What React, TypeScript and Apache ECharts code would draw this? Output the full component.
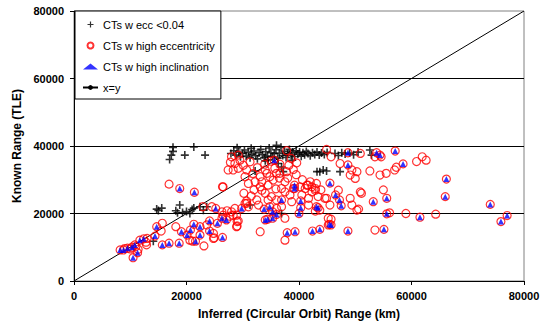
import React, { useEffect, useRef } from "react";
import * as echarts from "echarts";

// values in thousands of km: [inferred, known]
const lowEcc: number[][] = [
  [17.6, 39.6], [17.6, 38.4], [17.3, 37.3], [17.0, 36.0], [19.7, 37.3], [21.3, 39.7], [23.3, 37.3],
  [14.7, 21.3], [15.6, 21.6], [15.0, 20.9], [18.1, 20.8], [18.8, 22.5], [18.4, 20.2], [19.3, 20.3],
  [20.0, 20.6], [20.6, 20.0], [21.0, 21.2], [21.3, 21.6], [22.4, 22.0], [23.0, 21.0], [23.6, 22.0],
  [14.1, 11.8], [31.3, 22.5], [36.9, 20.0],
  [36.3, 34.8], [36.9, 33.8], [37.2, 32.4], [43.2, 32.4], [43.7, 32.4], [44.3, 32.9], [44.9, 32.6],
  [47.3, 32.4], [32.2, 32.6], [34.0, 35.6],
  [27.9, 37.8], [28.4, 38.6], [28.8, 37.3], [29.3, 38.2], [29.6, 36.8], [30.0, 37.8], [30.3, 38.8],
  [30.6, 37.0], [31.0, 38.2], [31.3, 36.5], [31.6, 37.6], [32.0, 38.5], [32.3, 37.1], [32.6, 36.2],
  [32.9, 38.0], [33.2, 39.0], [33.5, 37.4], [33.8, 36.6], [34.1, 38.3], [34.4, 37.0], [34.7, 39.4],
  [35.0, 38.0], [35.3, 36.8], [35.6, 37.7], [35.9, 38.9], [36.2, 36.4], [36.5, 37.9], [36.8, 39.6],
  [37.1, 37.2], [37.4, 38.4], [37.7, 36.6], [38.0, 37.8], [38.3, 39.0], [38.6, 37.2], [38.9, 38.2],
  [39.2, 36.9], [39.5, 38.6], [39.8, 37.6], [40.1, 38.2], [40.4, 37.0], [40.7, 38.0], [41.0, 37.4],
  [41.3, 38.4], [41.6, 37.8], [42.0, 37.1], [42.4, 38.0], [42.8, 37.5], [43.2, 38.2], [43.6, 37.3],
  [44.0, 37.9], [44.5, 37.5], [45.0, 38.1], [46.4, 37.8], [47.0, 37.2], [47.6, 38.0], [48.2, 37.6],
  [49.0, 37.9], [49.7, 37.4], [50.5, 38.2], [52.6, 38.8], [52.9, 37.3], [36.0, 40.2], [31.5, 39.3],
  [34.5, 35.9], [38.8, 35.8], [29.0, 39.5],
];

const highEcc: number[][] = [
  [16.9, 28.7], [26.4, 27.9], [15.7, 17.1], [15.5, 14.8], [12.9, 10.7], [11.4, 9.4], [18.1, 16.1],
  [23.1, 10.4], [21.1, 11.8], [24.9, 12.8], [24.8, 14.1], [23.6, 16.6], [22.9, 22.0], [24.5, 22.0],
  [26.3, 20.5], [26.5, 19.5], [27.7, 19.2], [28.3, 19.5], [28.9, 19.5], [29.0, 17.6], [29.0, 16.3],
  [31.0, 22.0], [30.7, 23.0], [33.1, 14.6], [27.2, 20.8], [28.0, 20.5], [28.6, 21.5], [30.4, 23.0],
  [30.7, 23.7], [32.5, 24.0], [32.8, 22.5], [33.4, 26.9], [34.0, 26.0], [34.5, 24.0], [35.1, 25.0],
  [36.0, 24.0], [24.8, 12.6], [20.6, 12.1], [29.2, 17.8], [28.9, 16.1],
  [9.0, 9.6], [10.0, 9.5], [11.0, 10.2], [12.8, 11.5], [13.0, 12.6],
  [28.0, 36.8], [29.2, 37.3], [28.6, 34.8], [29.5, 35.8], [28.3, 32.9], [29.2, 33.4], [30.1, 34.3],
  [30.7, 32.9], [31.3, 35.3], [30.4, 30.9], [31.0, 28.9], [32.2, 29.4], [33.1, 30.9], [33.4, 29.4],
  [34.0, 32.9], [34.3, 31.9], [34.8, 30.9], [35.7, 33.4], [36.0, 31.9], [35.4, 29.9], [34.5, 28.4],
  [33.1, 27.9], [26.5, 27.9], [27.4, 32.9], [27.8, 35.2], [31.8, 31.8], [32.6, 33.6], [30.2, 26.0],
  [31.5, 25.2], [33.9, 34.6], [35.0, 35.5], [36.6, 34.6], [36.5, 30.5], [35.9, 27.3], [32.0, 27.0],
  [37.8, 38.6], [38.6, 36.3], [39.6, 35.0], [44.9, 39.0], [37.8, 32.4], [37.5, 29.4], [36.6, 31.9],
  [42.0, 29.4], [41.4, 28.4], [42.3, 27.9], [42.9, 27.4], [43.1, 28.9], [36.9, 27.4], [40.2, 27.9],
  [39.0, 27.4], [37.5, 26.4], [38.4, 25.5], [41.1, 27.4], [42.3, 26.4], [41.7, 24.5], [42.9, 26.9],
  [43.4, 25.0], [44.9, 24.5], [38.7, 23.5], [36.9, 22.0], [41.7, 22.5], [43.7, 21.0], [42.9, 20.7],
  [36.0, 21.5], [37.5, 18.6], [37.5, 12.1], [45.2, 18.6], [45.5, 22.5], [45.7, 18.3], [45.2, 16.6],
  [44.6, 24.5], [41.6, 28.4], [38.0, 30.5], [39.5, 31.5], [40.6, 30.0], [39.0, 33.0], [38.2, 34.3],
  [40.5, 25.5], [43.9, 27.0], [45.7, 36.8],
  [47.3, 34.8], [49.4, 32.9], [50.3, 32.4], [50.0, 30.4], [49.1, 31.4], [47.0, 26.9], [49.1, 24.5],
  [50.9, 26.4], [49.4, 22.5], [50.3, 21.0], [50.6, 21.3], [50.9, 37.8], [51.1, 26.0], [52.6, 32.6],
  [54.4, 31.4], [55.5, 31.9], [57.0, 32.9], [57.3, 33.7], [60.9, 35.4], [62.6, 35.8], [61.9, 36.8],
  [55.0, 27.0], [56.1, 20.2], [59.0, 20.0], [64.3, 19.8], [53.5, 15.1], [53.5, 36.8], [54.6, 36.8],
];

const highIncl: number[][] = [
  [8.2, 9.2], [8.8, 9.2], [9.5, 9.7], [10.3, 10.0], [10.8, 10.7], [11.3, 8.4], [10.5, 6.9],
  [11.7, 12.1], [12.4, 12.5], [14.4, 13.3], [14.7, 16.1], [15.7, 10.7], [16.9, 11.2], [18.7, 11.2],
  [18.8, 27.4], [19.1, 14.6], [20.1, 13.6], [20.7, 15.1], [21.3, 16.8], [21.4, 26.3], [22.4, 16.1],
  [22.4, 13.6], [21.6, 11.8], [24.1, 17.8], [24.1, 14.8], [25.2, 21.5], [25.5, 17.1], [26.4, 12.9],
  [26.3, 18.6], [27.1, 18.1], [29.8, 21.5],
  [33.8, 21.3], [34.8, 22.0], [35.3, 20.5], [36.0, 19.7], [34.0, 18.1], [34.4, 18.3], [35.3, 18.6],
  [35.6, 35.8], [36.9, 24.0], [39.2, 28.4], [39.2, 27.4], [40.3, 23.7], [40.3, 21.7], [40.0, 20.0],
  [43.1, 22.0], [43.4, 21.7], [45.5, 29.0], [46.5, 25.5], [47.2, 24.0], [47.5, 22.3], [37.9, 14.3],
  [39.3, 14.6], [42.4, 14.8], [43.7, 15.3], [45.4, 16.8], [45.7, 16.6], [48.7, 14.8], [48.7, 38.0],
  [48.7, 34.4],
  [53.8, 38.0], [54.4, 37.3], [57.1, 38.5], [58.5, 34.7], [66.2, 30.2], [53.2, 23.5], [55.6, 24.5],
  [55.6, 19.9], [55.1, 15.3], [61.5, 18.9], [66.0, 25.0], [74.0, 22.7], [77.0, 19.4], [75.9, 17.6],
];

const identityLine: number[][] = [[0, 0], [80, 80]];
const seriesNames = ["CTs w ecc <0.04", "CTs w high eccentricity", "CTs w high inclination", "x=y"];

const toKm = (arr: number[][]) => arr.map(([x, y]) => [x * 1000, y * 1000]);
const FONT = 'Arial, "Liberation Sans", sans-serif';
const PLUS = "path://M4,0h2v4h4v2h-4v4h-2v-4h-4v-2h4z";

export default function App() {
  const ref = useRef<HTMLDivElement>(null);
  useEffect(() => {
    if (!ref.current) return;
    const chart = echarts.init(ref.current, null, { renderer: "svg" });
    const axisLabel = {
      color: "#000",
      fontFamily: FONT,
      fontSize: 11,
      fontWeight: "bold" as const,
    };
    chart.setOption({
      animation: false,
      backgroundColor: "#fff",
      grid: { left: 74, right: 22, top: 11, bottom: 44, show: true, borderColor: "#808080", borderWidth: 1 },
      legend: {
        data: seriesNames,
        orient: "vertical",
        left: 75,
        top: 11,
        padding: [7, 6, 5, 7],
        itemGap: 8,
        itemWidth: 15,
        itemHeight: 6,
        borderColor: "#000",
        borderWidth: 1,
        borderRadius: 0,
        backgroundColor: "#fff",
        textStyle: { color: "#000", fontFamily: FONT, fontSize: 11, lineHeight: 13 },
        z: 10,
      },
      xAxis: {
        type: "value",
        min: 0,
        max: 80000,
        interval: 20000,
        name: "Inferred (Circular Orbit) Range (km)",
        nameLocation: "middle",
        nameGap: 27,
        nameTextStyle: { ...axisLabel, fontSize: 12 },
        axisLine: { show: true, lineStyle: { color: "#000" } },
        axisTick: { show: true, inside: false, length: 4, lineStyle: { color: "#000" } },
        axisLabel: { ...axisLabel, margin: 9, formatter: (v: number) => String(v) },
        splitLine: { show: false },
      },
      yAxis: {
        type: "value",
        min: 0,
        max: 80000,
        interval: 20000,
        name: "Known Range (TLE)",
        nameLocation: "middle",
        nameGap: 45,
        nameTextStyle: { ...axisLabel, fontSize: 12 },
        axisLine: { show: true, lineStyle: { color: "#000" } },
        axisTick: { show: true, inside: false, length: 4, lineStyle: { color: "#000" } },
        axisLabel: { ...axisLabel, margin: 10, formatter: (v: number) => String(v) },
        splitLine: { show: true, showMinLine: false, showMaxLine: false, lineStyle: { color: "#000", width: 1 } },
      },
      series: [
        {
          name: "x=y",
          type: "line",
          data: toKm(identityLine),
          showSymbol: false,
          symbol: "circle",
          symbolSize: 2,
          itemStyle: { color: "#000" },
          lineStyle: { color: "#000", width: 1 },
          z: 1,
        },
        {
          name: "CTs w ecc <0.04",
          type: "scatter",
          data: toKm(lowEcc),
          symbol: PLUS,
          symbolSize: 8,
          itemStyle: { color: "#000" },
          z: 2,
        },
        {
          name: "CTs w high eccentricity",
          type: "scatter",
          data: toKm([...highEcc, ...highIncl]),
          symbol: "circle",
          symbolSize: 8,
          itemStyle: { color: "rgba(255,255,255,0)", borderColor: "#ff0000", borderWidth: 1.2 },
          z: 3,
        },
        {
          name: "CTs w high inclination",
          type: "scatter",
          data: toKm(highIncl),
          symbol: "triangle",
          symbolSize: 6,
          itemStyle: { color: "#0000ff" },
          z: 4,
        },
      ],
    });
    return () => chart.dispose();
  }, []);
  return <div ref={ref} style={{ width: 546, height: 325, position: "absolute", left: 0, top: 0 }} />;
}
